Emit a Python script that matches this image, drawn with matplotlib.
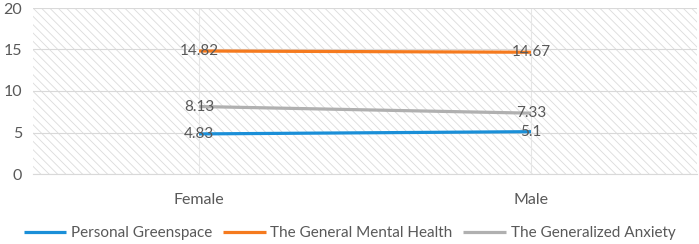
import matplotlib
matplotlib.use("Agg")
import matplotlib.pyplot as plt
from matplotlib.patches import Rectangle

# data
categories = ["Female", "Male"]
series_names = ["Personal Greenspace", "The General Mental Health", "The Generalized Anxiety"]
greenspace = [4.83, 5.1]
mental_health = [14.82, 14.67]
anxiety = [8.13, 7.33]
yticks = [0, 5, 10, 15, 20]

colors = ["#1a8fd8", "#f57a1e", "#b0b0b0"]
text_col = "#595959"

plt.rcParams["font.family"] = ["Lato", "DejaVu Sans"]
plt.rcParams["hatch.linewidth"] = 0.6

fig = plt.figure(figsize=(6.99, 2.44), dpi=100)
ax = fig.add_axes([33 / 699, 70 / 244, 664 / 699, 166 / 244])

# hatched plot area
ax.add_patch(Rectangle((0, 0), 1, 1, transform=ax.transAxes, facecolor="white",
                       edgecolor="#dcdcdc", hatch="\\\\\\\\", linewidth=0, zorder=0))

x = [0.5, 1.5]
for vals, name, c in zip([greenspace, mental_health, anxiety], series_names, colors):
    ax.plot(x, vals, color=c, linewidth=2.3, label=name, zorder=3, solid_capstyle="butt")
    for xi, v in zip(x, vals):
        ax.text(xi, v, f"{v:g}", ha="center", va="center", fontsize=11,
                color=text_col, zorder=4)

ax.set_xlim(0, 2)
ax.set_ylim(0, 20)
ax.set_yticks(yticks)
ax.set_xticks(x)
ax.set_xticklabels(categories)
ax.grid(axis="y", color="#d9d9d9", linewidth=0.8, zorder=1)
ax.grid(axis="x", color="#e6e6e6", linewidth=0.8, zorder=1)
ax.set_axisbelow(True)
for s in ax.spines.values():
    s.set_visible(False)
ax.spines["bottom"].set_visible(True)
ax.spines["bottom"].set_color("#d9d9d9")
ax.tick_params(length=0, colors=text_col, labelsize=11.5)
ax.tick_params(axis="x", pad=14)
ax.tick_params(axis="y", pad=8)

fig.legend(loc="center", bbox_to_anchor=(0.5, 1 - 233 / 244), ncol=3, frameon=False,
           fontsize=11, labelcolor=text_col, handlelength=2.8, columnspacing=0.7,
           handletextpad=0.3)

fig.savefig("out.png", dpi=100)
